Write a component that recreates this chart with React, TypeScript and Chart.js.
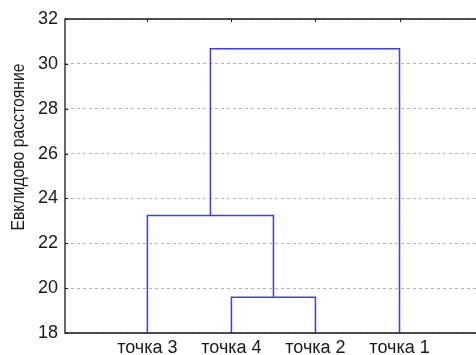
import React, { useEffect, useRef } from "react";
import { Chart, registerables } from "chart.js";

Chart.register(...registerables);

// Leaves in dendrogram order (x positions 1..4)
const leafLabels = ["точка 3", "точка 4", "точка 2", "точка 1"];
// Linkage: node ids 0..3 are leaves, merges create nodes 4, 5, 6
const mergeLeftNode = [1, 0, 5];
const mergeRightNode = [2, 4, 3];
const mergeHeights = [19.59, 23.24, 30.67];

const yTicks = [18, 20, 22, 24, 26, 28, 30, 32];
const yTitle = "Евклидово расстояние";

const LINE_COLOR = "rgb(60,60,255)";
const FONT = "'Liberation Sans', Arial, sans-serif";

function buildSegments() {
  const yMin = yTicks[0];
  const nodeX: number[] = leafLabels.map((_, i) => i + 1);
  const nodeY: number[] = leafLabels.map(() => yMin);
  const sets: { x: number; y: number }[][] = [];
  mergeHeights.forEach((h, i) => {
    const l = mergeLeftNode[i];
    const r = mergeRightNode[i];
    const xl = nodeX[l];
    const xr = nodeX[r];
    sets.push([
      { x: xl, y: nodeY[l] },
      { x: xl, y: h },
      { x: xr, y: h },
      { x: xr, y: nodeY[r] },
    ]);
    nodeX.push((xl + xr) / 2);
    nodeY.push(h);
  });
  return sets;
}

const framePlugin = {
  id: "frame",
  afterDraw(chart: any) {
    const { ctx, chartArea } = chart;
    const { left, top, bottom, right } = chartArea;
    ctx.save();
    ctx.strokeStyle = "#1a1a1a";
    ctx.lineWidth = 1.3;
    ctx.beginPath();
    ctx.moveTo(right + 5, top);
    ctx.lineTo(left, top);
    ctx.lineTo(left, bottom);
    ctx.lineTo(right + 5, bottom);
    ctx.stroke();
    // top ticks
    const xs = chart.scales.x;
    ctx.lineWidth = 1;
    leafLabels.forEach((_, i) => {
      const px = Math.round(xs.getPixelForValue(i + 1)) + 0.5;
      ctx.beginPath();
      ctx.moveTo(px, top);
      ctx.lineTo(px, top + 3);
      ctx.stroke();
    });
    const ys = chart.scales.y;
    yTicks.forEach((v) => {
      const py = Math.round(ys.getPixelForValue(v)) + 0.5;
      ctx.beginPath();
      ctx.moveTo(left, py);
      ctx.lineTo(left + 3, py);
      ctx.stroke();
    });
    // y axis title (slightly condensed to match the reference rendering)
    ctx.fillStyle = "#1a1a1a";
    ctx.font = `18px ${FONT}`;
    ctx.textAlign = "center";
    ctx.textBaseline = "middle";
    const w = ctx.measureText(yTitle).width;
    ctx.translate(19, 147);
    ctx.rotate(-Math.PI / 2);
    ctx.scale(167 / w, 1);
    ctx.fillText(yTitle, 0, 0);
    ctx.restore();
  },
};

export default function App() {
  const ref = useRef<HTMLCanvasElement>(null);
  useEffect(() => {
    const segs = buildSegments();
    const chart = new Chart(ref.current!, {
      type: "scatter",
      data: {
        datasets: segs.map((s) => ({
          data: s,
          showLine: true,
          borderColor: LINE_COLOR,
          borderWidth: 1.5,
          pointRadius: 0,
          fill: false,
          tension: 0,
        })),
      },
      options: {
        animation: false,
        responsive: false,
        layout: { padding: { top: 19, right: 0, left: 0, bottom: 0 } },
        plugins: { legend: { display: false }, tooltip: { enabled: false } },
        scales: {
          x: {
            type: "linear",
            min: 0.02,
            max: 4.91,
            grid: { display: false, drawTicks: false },
            border: { display: false },
            afterBuildTicks: (s: any) => {
              s.ticks = leafLabels.map((_, i) => ({ value: i + 1 }));
            },
            afterFit: (s: any) => {
              s.height = 22;
            },
            ticks: {
              padding: 4,
              autoSkip: false,
              maxRotation: 0,
              color: "#1a1a1a",
              font: { family: FONT, size: 18 },
              callback: (v: any) => leafLabels[Math.round(Number(v)) - 1] ?? "",
            },
          },
          y: {
            min: yTicks[0],
            max: yTicks[yTicks.length - 1],
            afterBuildTicks: (s: any) => {
              s.ticks = yTicks.map((v) => ({ value: v }));
            },
            afterFit: (s: any) => {
              s.width = 65;
            },
            grid: {
              drawTicks: false,
              color: "#b4b4b4",
              lineWidth: 1,
            },
            border: { display: false, dash: [3, 3] },
            ticks: {
              padding: 7,
              color: "#1a1a1a",
              font: { family: FONT, size: 18 },
            },
          },
        },
      },
      plugins: [framePlugin],
    });
    return () => chart.destroy();
  }, []);
  return (
    <div style={{ position: "fixed", left: 0, top: 0, width: 476, height: 355, background: "#fff" }}>
      <canvas ref={ref} width={476} height={355} style={{ width: 476, height: 355 }} />
    </div>
  );
}
